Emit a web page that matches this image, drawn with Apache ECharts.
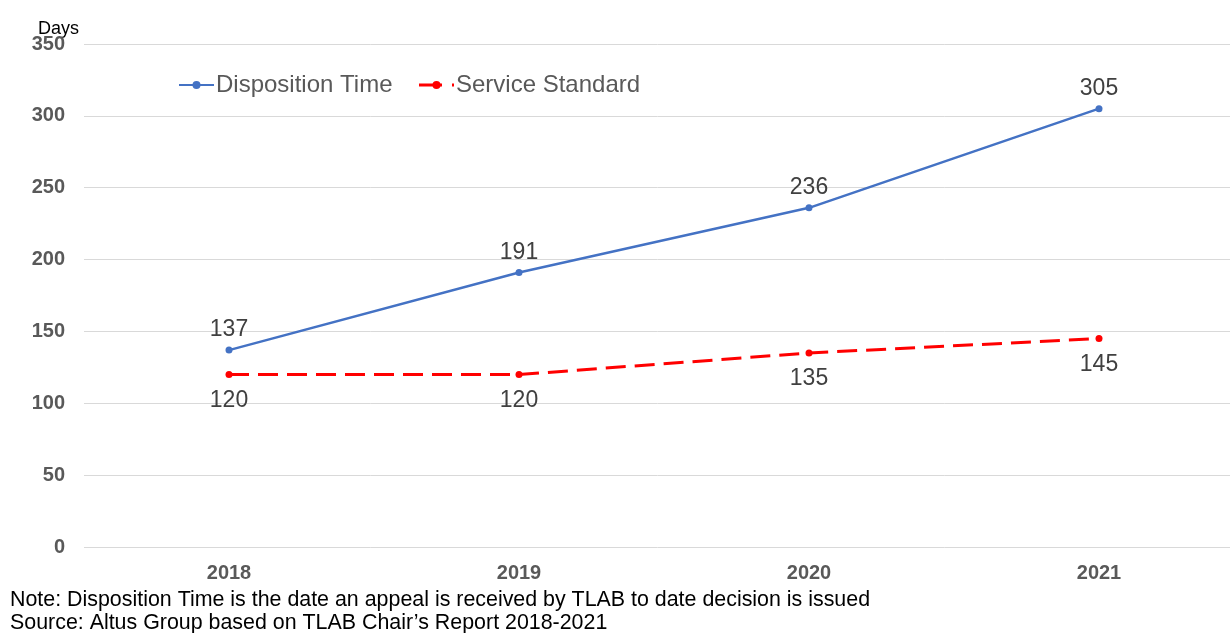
<!DOCTYPE html>
<html>
<head>
<meta charset="utf-8">
<script src="https://cdn.jsdelivr.net/npm/echarts@6/dist/echarts.min.js"></script>
<style>
  html, body { margin: 0; padding: 0; background: #fff; }
  #chart { width: 1230px; height: 633px; }
</style>
</head>
<body>
<div id="chart"></div>
<script>
// Years shown on the category axis
const years = ['2018', '2019', '2020', '2021'];
// Average days from appeal receipt to decision
const dispositionTime = [137, 191, 236, 305];
// Target number of days
const serviceStandard = [120, 120, 135, 145];
// Value axis range
const yMin = 0, yMax = 350, yStep = 50;

const note = 'Note: Disposition Time is the date an appeal is received by TLAB to date decision is issued';
const source = 'Source: Altus Group based on TLAB Chair\u2019s Report 2018-2021';

const font = '"Liberation Sans", Arial, sans-serif';
const chart = echarts.init(document.getElementById('chart'));

chart.setOption({
  animation: false,
  backgroundColor: '#ffffff',
  grid: { left: 84, top: 44, width: 1160, height: 503, containLabel: false, outerBoundsMode: 'none' },
  legend: {
    left: 178,
    top: 73,
    padding: 0,
    itemWidth: 35,
    itemHeight: 10,
    itemGap: 25,
    textStyle: { fontFamily: font, fontSize: 24, color: '#595959', padding: [0, 0, 0, -3] },
    data: [
      { name: 'Disposition Time' },
      { name: 'Service Standard', lineStyle: { type: [23, 10], width: 3 } }
    ]
  },
  xAxis: {
    type: 'category',
    data: years,
    boundaryGap: true,
    axisLine: { show: false },
    axisTick: { show: false },
    axisLabel: { fontFamily: font, fontSize: 20, fontWeight: 'bold', color: '#595959', margin: 16 }
  },
  yAxis: {
    type: 'value',
    min: yMin,
    max: yMax,
    interval: yStep,
    axisLine: { show: false },
    axisTick: { show: false },
    splitLine: { lineStyle: { color: '#d9d9d9', width: 1 } },
    axisLabel: { fontFamily: font, fontSize: 20, fontWeight: 'bold', color: '#595959', margin: 19 }
  },
  graphic: [
    { type: 'text', left: 38, top: 20, style: { text: 'Days', fontFamily: font, fontSize: 18, fill: '#000000' } },
    { type: 'text', left: 10, top: 590, style: { text: note, fontFamily: font, fontSize: 21.4, fill: '#000000' } },
    { type: 'text', left: 10, top: 613, style: { text: source, fontFamily: font, fontSize: 21.4, fill: '#000000' } }
  ],
  series: [
    {
      name: 'Disposition Time',
      type: 'line',
      data: dispositionTime,
      symbol: 'circle',
      symbolSize: 7,
      itemStyle: { color: '#4472C4' },
      lineStyle: { color: '#4472C4', width: 2.5 },
      label: {
        show: true, position: 'top', distance: 5,
        fontFamily: font, fontSize: 23, color: '#404040'
      },
      z: 3
    },
    {
      name: 'Service Standard',
      type: 'line',
      data: serviceStandard,
      symbol: 'circle',
      symbolSize: 7,
      itemStyle: { color: '#FF0000' },
      lineStyle: { color: '#FF0000', width: 3, type: [20, 9] },
      label: {
        show: true, position: 'bottom', distance: 11,
        fontFamily: font, fontSize: 23, color: '#404040'
      },
      z: 2
    }
  ]
});
</script>
</body>
</html>
